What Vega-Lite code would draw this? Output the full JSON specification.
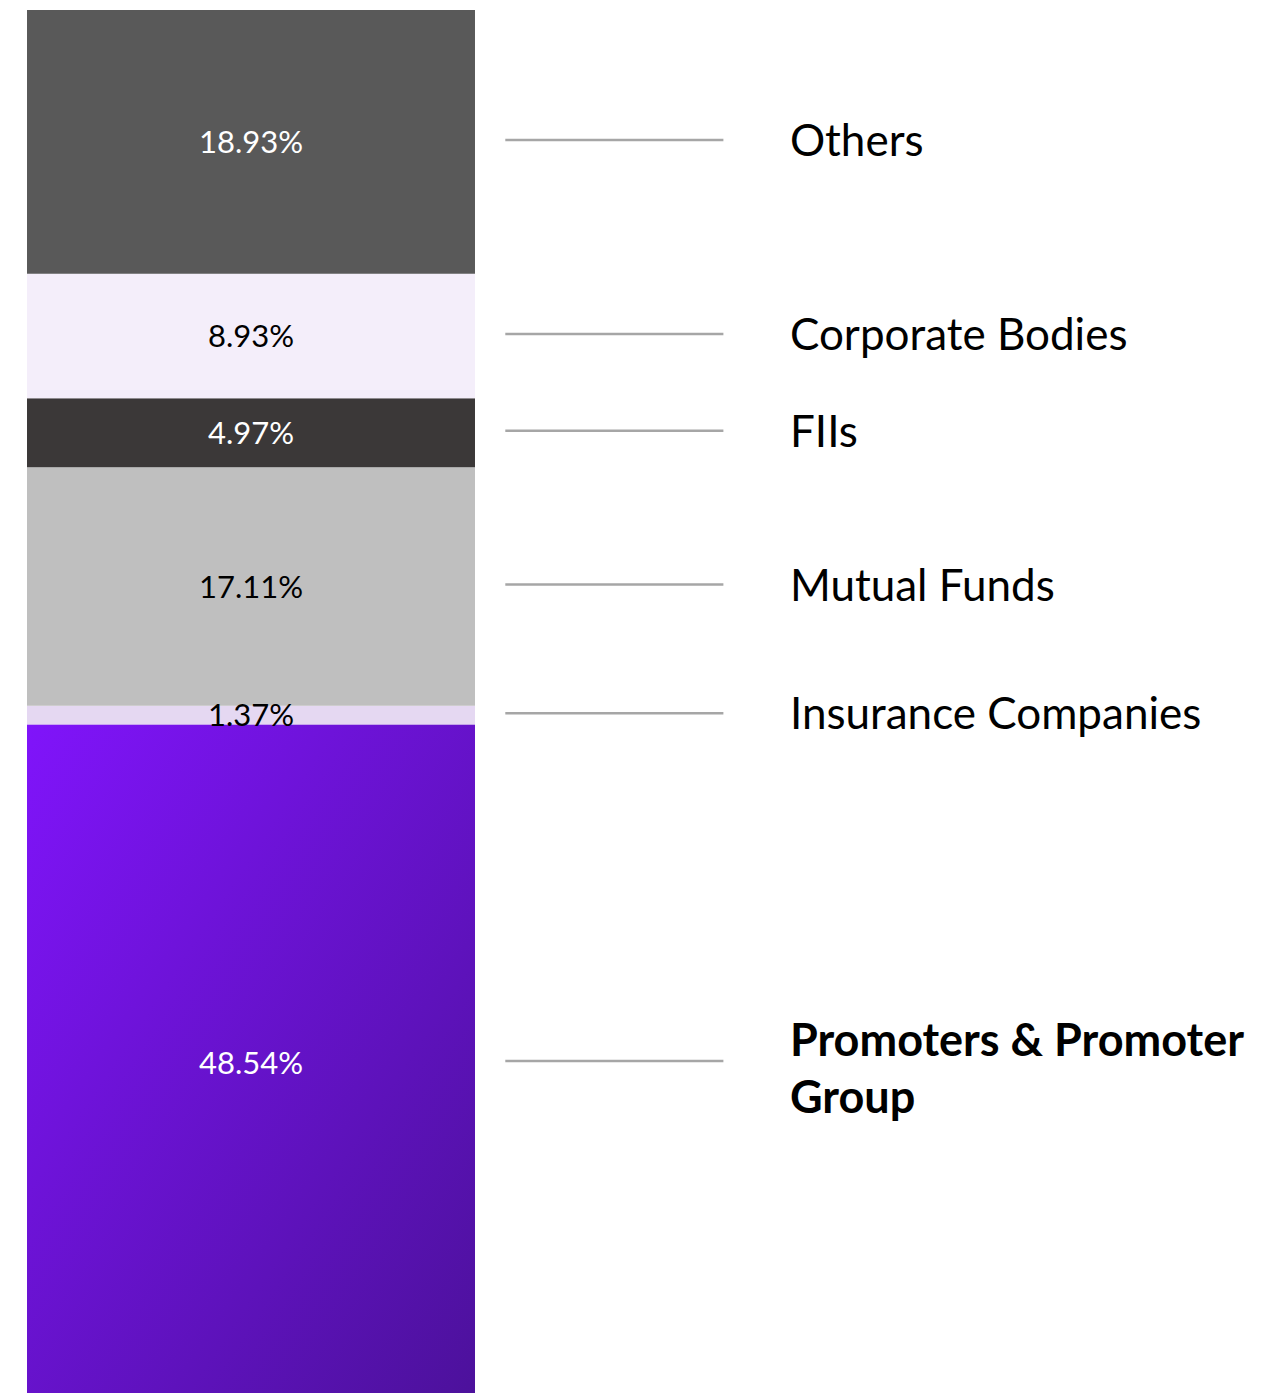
{
  "$schema": "https://vega.github.io/schema/vega-lite/v6.json",
  "autosize": {"type": "fit", "contains": "padding"},
  "width": 1268,
  "height": 1393,
  "padding": 0,
  "background": "white",
  "config": {"view": {"stroke": null}},
  "data": {
    "values": [
      {"category": "Promoters & Promoter Group", "name": "Promoters & Promoter\nGroup", "value": 48.54, "pct": "48.54%", "rank": 1},
      {"category": "Insurance Companies", "name": "Insurance Companies", "value": 1.37, "pct": "1.37%", "rank": 2},
      {"category": "Mutual Funds", "name": "Mutual Funds", "value": 17.11, "pct": "17.11%", "rank": 3},
      {"category": "FIIs", "name": "FIIs", "value": 4.97, "pct": "4.97%", "rank": 4},
      {"category": "Corporate Bodies", "name": "Corporate Bodies", "value": 8.93, "pct": "8.93%", "rank": 5},
      {"category": "Others", "name": "Others", "value": 18.93, "pct": "18.93%", "rank": 6}
    ]
  },
  "transform": [
    {"stack": "value", "groupby": [], "sort": [{"field": "rank", "order": "ascending"}], "as": ["y0", "y1"]},
    {"calculate": "(datum.y0 + datum.y1) / 2", "as": "ymid"}
  ],
  "layer": [
    {
      "mark": {"type": "bar", "clip": true},
      "encoding": {
        "x": {"datum": 2.13, "type": "quantitative", "scale": {"domain": [0, 100], "nice": false, "zero": false}, "axis": null},
        "x2": {"datum": 37.46},
        "y": {"field": "y0", "type": "quantitative", "scale": {"domain": [0.574, 100.57], "nice": false, "zero": false}, "axis": null},
        "y2": {"field": "y1"},
        "color": {
          "field": "category",
          "type": "nominal",
          "scale": {
            "domain": ["Promoters & Promoter Group", "Insurance Companies", "Mutual Funds", "FIIs", "Corporate Bodies", "Others"],
            "range": ["#7012e0", "#e5d8f2", "#bfbfbf", "#3b3838", "#f4eefa", "#595959"]
          },
          "legend": null
        }
      }
    },
    {
      "transform": [{"filter": "datum.rank == 1"}],
      "mark": {
        "type": "bar",
        "clip": true,
        "fill": {
          "gradient": "linear",
          "x1": 0, "y1": 0, "x2": 1, "y2": 1,
          "stops": [
            {"offset": 0, "color": "#8014fa"},
            {"offset": 1, "color": "#4c119b"}
          ]
        }
      },
      "encoding": {
        "x": {"datum": 2.13, "type": "quantitative"},
        "x2": {"datum": 37.46},
        "y": {"field": "y0", "type": "quantitative"},
        "y2": {"field": "y1"}
      }
    },
    {
      "mark": {"type": "rule", "stroke": "#a6a6a6", "strokeWidth": 2.5, "yOffset": -2},
      "encoding": {
        "x": {"datum": 39.85, "type": "quantitative"},
        "x2": {"datum": 57.05},
        "y": {"field": "ymid", "type": "quantitative"}
      }
    },
    {
      "mark": {"type": "text", "font": "Lato", "fontSize": 31, "align": "center", "baseline": "middle", "dy": 2},
      "encoding": {
        "x": {"datum": 19.8, "type": "quantitative"},
        "y": {"field": "ymid", "type": "quantitative"},
        "text": {"field": "pct", "type": "nominal"},
        "color": {
          "condition": {"test": "datum.rank == 1 || datum.rank == 4 || datum.rank == 6", "value": "#ffffff"},
          "value": "#000000"
        }
      }
    },
    {
      "transform": [{"filter": "datum.rank != 1"}],
      "mark": {"type": "text", "font": "Lato", "fontSize": 44, "align": "left", "baseline": "middle", "color": "#000000", "dy": 1},
      "encoding": {
        "x": {"datum": 62.3, "type": "quantitative"},
        "y": {"field": "ymid", "type": "quantitative"},
        "text": {"field": "name", "type": "nominal"}
      }
    },
    {
      "transform": [{"filter": "datum.rank == 1"}],
      "mark": {"type": "text", "font": "Lato", "fontSize": 45, "fontWeight": "bold", "align": "left", "baseline": "middle", "color": "#000000", "lineBreak": "\n", "lineHeight": 57, "dy": -21},
      "encoding": {
        "x": {"datum": 62.3, "type": "quantitative"},
        "y": {"field": "ymid", "type": "quantitative"},
        "text": {"field": "name", "type": "nominal"}
      }
    }
  ]
}
